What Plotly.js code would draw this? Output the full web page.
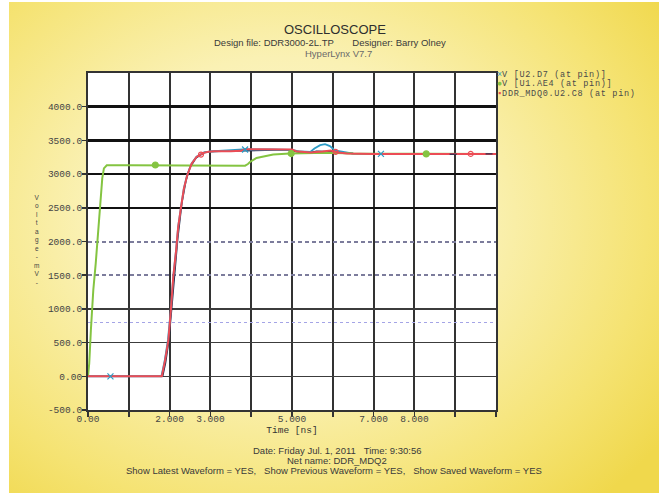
<!DOCTYPE html>
<html>
<head>
<meta charset="utf-8">
<script src="https://cdn.plot.ly/plotly-3.0.1.min.js"></script>
<style>
  html, body { margin: 0; padding: 0; background: #ffffff; }
  #bg { position: absolute; left: 9px; top: 2px; width: 650px; height: 491px;
        background: radial-gradient(ellipse 72% 78% at 42% 44%, #fdf9de 0%, #faf1b4 42%, #f5e373 78%, #f0d84c 100%); }
  #chart { position: absolute; left: 0; top: 0; width: 659px; height: 496px; }
</style>
</head>
<body>
<div id="bg"></div>
<div id="chart"></div>
<script>
// ---------------- data ----------------
const seriesNames = ["V [U2.D7 (at pin)]", "V [U1.AE4 (at pin)]", "DDR_MDQ0.U2.C8 (at pin)"];

// V [U2.D7 (at pin)]  (teal)
const blueT = [0, 1.80, 1.88, 1.96, 2.03, 2.09, 2.16, 2.21, 2.28, 2.35, 2.43, 2.54, 2.66, 2.83, 3.00, 3.80, 4.50, 5.00, 5.20, 5.45, 5.55, 5.69, 5.81, 5.93, 6.05, 6.18, 6.34, 6.50, 7.00, 10.0];
const blueV = [0, 0, 230, 540, 990, 1480, 1880, 2220, 2515, 2790, 2985, 3160, 3260, 3320, 3335, 3365, 3365, 3360, 3335, 3330, 3380, 3430, 3445, 3415, 3350, 3340, 3320, 3305, 3300, 3300];
const blueMarkT = [0.55, 3.85, 7.18];
const blueMarkV = [0, 3365, 3300];

// V [U1.AE4 (at pin)]  (green)
const greenT = [0, 0.03, 0.07, 0.13, 0.19, 0.25, 0.31, 0.35, 0.39, 0.46, 1.0, 2.0, 3.0, 3.85, 3.92, 3.97, 4.13, 4.30, 4.54, 4.95, 5.40, 5.85, 6.50, 10.0];
const greenV = [0, 190, 680, 1280, 1680, 2170, 2660, 2940, 3085, 3130, 3130, 3130, 3125, 3125, 3150, 3180, 3240, 3265, 3290, 3305, 3310, 3315, 3305, 3300];
const greenMarkT = [1.65, 4.98, 8.29];
const greenMarkV = [3135, 3305, 3300];

// DDR_MDQ0.U2.C8 (at pin)  (red)
const redT = [0, 1.81, 1.89, 1.97, 2.03, 2.09, 2.16, 2.21, 2.28, 2.35, 2.43, 2.54, 2.66, 2.83, 2.95, 3.10, 3.50, 3.75, 3.85, 4.50, 5.00, 5.10, 5.45, 5.75, 5.95, 6.13, 6.34, 7.0, 8.0, 9.0, 10.0];
const redV = [0, 0, 240, 535, 980, 1475, 1870, 2215, 2510, 2785, 2980, 3155, 3255, 3315, 3330, 3340, 3340, 3345, 3370, 3370, 3365, 3340, 3320, 3335, 3350, 3320, 3305, 3300, 3300, 3300, 3300];
const redMarkT = [2.77, 6.07, 9.38];
const redMarkV = [3290, 3330, 3300];

// previous waveform (dark, unlabelled)
const darkT = [0, 1.83, 1.90, 1.98, 2.05, 2.12, 2.20, 2.30, 2.40, 2.50, 2.65, 2.85, 3.00, 4.90, 5.10, 5.20, 5.45, 5.60, 6.00, 6.50, 10.0];
const darkV = [0, 0, 200, 520, 1000, 1530, 2050, 2570, 2900, 3100, 3240, 3320, 3335, 3360, 3340, 3320, 3320, 3340, 3330, 3305, 3300];
const darkMarkT = [8.95, 9.83];
const darkMarkV = [3295, 3300];

// axes
const xTickVals = [0, 1, 2, 3, 4, 5, 6, 7, 8, 9, 10];
const xTickText = ["0.00", "", "2.000", "3.000", "", "5.000", "", "7.000", "8.000", "", ""];
const yTickVals = [-500, 0, 500, 1000, 1500, 2000, 2500, 3000, 3500, 4000];
const yTickText = ["-500.0", "0.00", "500.0", "1000.0", "1500.0", "2000.0", "2500.0", "3000.0", "3500.0", "4000.0"];
const gridThin = [0, 500, 1000];
const gridThick = [2500, 3000, 3500, 4000];
const gridDash = [1500, 2000];
const gridDot = [800];

// ---------------- chart ----------------
const MONO = "Liberation Mono, DejaVu Sans Mono, monospace";
const SANS = "Liberation Sans, Arial, sans-serif";
const cBlue = "#2d9cc6", cGreen = "#84c441", cRed = "#ec4c55", cDark = "#1e2d4e";

function line(x, y, color, w, name) {
  return {x: x, y: y, type: "scatter", mode: "lines", name: name, showlegend: false,
          line: {color: color, width: w}, hoverinfo: "skip"};
}
function marks(x, y, color, symbol, size, name) {
  return {x: x, y: y, type: "scatter", mode: "markers", name: name, showlegend: false,
          marker: {color: color, symbol: symbol, size: size, line: {color: color, width: 1.2}}};
}
// empty carrier traces so that the overlaid grid axes get drawn
function carrier(yaxisId) {
  return {x: [null], y: [null], type: "scatter", mode: "lines", yaxis: yaxisId,
          showlegend: false, hoverinfo: "skip"};
}

const data = [
  carrier("y2"), carrier("y3"), carrier("y4"), carrier("y5"),
  line(darkT, darkV, cDark, 1.5, "previous"),
  line(blueT, blueV, cBlue, 1.8, seriesNames[0]),
  line(greenT, greenV, cGreen, 2, seriesNames[1]),
  line(redT, redV, cRed, 2, seriesNames[2]),
  marks(darkMarkT, darkMarkV, cDark, "line-ew-open", 5, "previous"),
  marks(blueMarkT, blueMarkV, cBlue, "x-thin-open", 6, seriesNames[0]),
  marks(greenMarkT, greenMarkV, cGreen, "circle", 6, seriesNames[1]),
  marks(redMarkT, redMarkV, cRed, "circle-open", 5, seriesNames[2])
];

const yRange = [-500, 4500];
function gridAxis(vals, color, width, dash) {
  return {overlaying: "y", anchor: "x", range: yRange, tickmode: "array", tickvals: vals,
          showticklabels: false, ticks: "", showline: false, zeroline: false,
          showgrid: true, gridcolor: color, gridwidth: width, griddash: dash};
}

const px2py = p => (410 - p) / 337;   // pixel row -> paper y
const px2px = p => (p - 88) / 408;    // pixel col -> paper x

const annotations = [];
function txt(text, xp, yp, size, color, font, extra) {
  annotations.push(Object.assign({text: text, x: px2px(xp), y: px2py(yp), xref: "paper", yref: "paper",
    showarrow: false, xanchor: "center", yanchor: "middle",
    font: {family: font || SANS, size: size, color: color || "#3a3a3a"}}, extra || {}));
}
txt("OSCILLOSCOPE", 335, 29.5, 13, "#2e2e2e", SANS);
txt("Design file: DDR3000-2L.TP&nbsp;&nbsp;&nbsp;&nbsp;&nbsp;&nbsp;&nbsp;Designer: Barry Olney", 330, 42, 9.5, "#3a3a3a");
txt("HyperLynx V7.7", 338, 54, 9.5, "#6a6a6a");
txt("Date: Friday Jul. 1, 2011&nbsp;&nbsp;&nbsp;Time: 9:30:56", 337, 450, 9.5, "#3a3a3a");
txt("Net name: DDR_MDQ2", 337, 460, 9.5, "#3a3a3a");
txt("Show Latest Waveform = YES,&nbsp;&nbsp;&nbsp;Show Previous Waveform = YES,&nbsp;&nbsp;&nbsp;Show Saved Waveform = YES", 334, 470, 9.5, "#3a3a3a");
txt("V<br>o<br>l<br>t<br>a<br>g<br>e<br>-<br>m<br>V<br>-", 37, 240, 6.5, "#444444", SANS);

// legend (HyperLynx style: tight rows to the right of the plot)
const legSym = [["×", cBlue], ["●", cGreen], ["▪", cRed]];
const legY = [74.5, 84, 93.5];
for (let i = 0; i < seriesNames.length; i++) {
  txt("<span style='color:" + legSym[i][1] + "'>" + legSym[i][0] + "</span>" +
      "<span style='letter-spacing:0.7px'>" + seriesNames[i] + "</span>",
      495, legY[i], 8.5, "#4a4a4a", MONO, {xanchor: "left"});
}

const layout = {
  width: 659, height: 496,
  margin: {l: 88, r: 163, t: 73, b: 86},
  paper_bgcolor: "rgba(0,0,0,0)",
  plot_bgcolor: "#ffffff",
  showlegend: false,
  xaxis: {
    range: [0, 10], tickmode: "array", tickvals: xTickVals, ticktext: xTickText,
    ticks: "outside", ticklen: 5, tickwidth: 1.5, tickcolor: "#333",
    tickfont: {family: MONO, size: 9.5, color: "#444"}, ticklabelstandoff: -6,
    showgrid: true, gridcolor: "#333333", gridwidth: 2,
    showline: true, mirror: true, linecolor: "#333", linewidth: 2, zeroline: false,
    title: {text: "Time [ns]", font: {family: MONO, size: 9.5, color: "#333"}, standoff: 0}
  },
  yaxis: {
    range: yRange, tickmode: "array", tickvals: yTickVals, ticktext: yTickText,
    ticks: "outside", ticklen: 4, tickwidth: 1.5, tickcolor: "#333",
    tickfont: {family: MONO, size: 9.5, color: "#444"}, ticklabelstandoff: -2,
    showgrid: false, showline: true, mirror: true, linecolor: "#333", linewidth: 2, zeroline: false
  },
  yaxis2: gridAxis(gridThin, "#3c3c3c", 1.3, "solid"),
  yaxis3: gridAxis(gridThick, "#111111", 2.6, "solid"),
  yaxis4: gridAxis(gridDash, "#7c7c9c", 2, "4px,3px"),
  yaxis5: gridAxis(gridDot, "#a4a4e6", 1.2, "dot"),
  annotations: annotations
};

Plotly.newPlot("chart", data, layout, {staticPlot: true, displayModeBar: false});
</script>
</body>
</html>
